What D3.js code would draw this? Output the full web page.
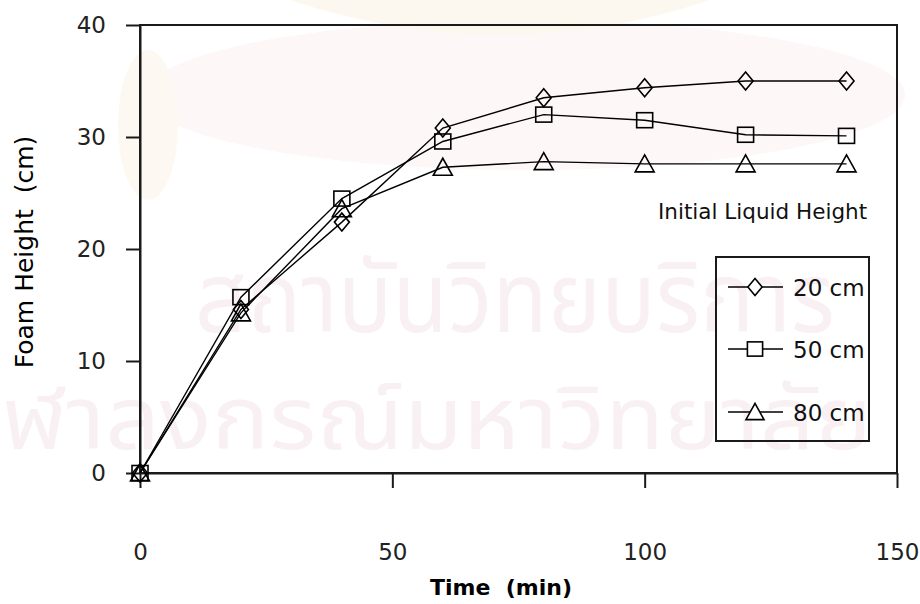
<!DOCTYPE html>
<html>
<head>
<meta charset="utf-8">
<script src="https://cdn.jsdelivr.net/npm/d3@7"></script>
<style>
  html, body { margin: 0; padding: 0; background: #fff; }
  svg { display: block; }
</style>
</head>
<body>
<svg id="chart" width="920" height="604"></svg>
<script>
// Foam height over time for three initial liquid heights
const times = [0, 20, 40, 60, 80, 100, 120, 140];
const foam20 = [0, 14.6, 22.4, 30.8, 33.5, 34.4, 35.0, 35.0];
const foam50 = [0, 15.7, 24.5, 29.6, 32.0, 31.5, 30.2, 30.1];
const foam80 = [0, 14.3, 23.6, 27.3, 27.8, 27.6, 27.6, 27.6];
const seriesNames = ["20 cm", "50 cm", "80 cm"];
const xTicks = [0, 50, 100, 150];
const yTicks = [0, 10, 20, 30, 40];

const svg = d3.select("#chart");
const plotL = 140, plotR = 897, plotT = 25, plotB = 473;

const x = d3.scaleLinear().domain([0, 150]).range([plotL, plotR]);
const y = d3.scaleLinear().domain([0, 40]).range([plotB, plotT]);

const FONT = "'DejaVu Sans', 'Liberation Sans', Arial, sans-serif";
const THAI = "'Noto Sans Thai', 'Noto Sans', 'DejaVu Sans', sans-serif";
const INK = "#1a1a1a";

// faint background emblem and institutional watermark
const wm = svg.append("g").attr("class", "watermark");
wm.append("ellipse")
  .attr("cx", 525).attr("cy", 95).attr("rx", 380).attr("ry", 75)
  .attr("fill", "#fdf7f8");
wm.append("path")
  .attr("d", "M290,0 Q500,70 710,0 Z")
  .attr("fill", "#fcf8f0");
wm.append("ellipse")
  .attr("cx", 148).attr("cy", 125).attr("rx", 30).attr("ry", 75)
  .attr("fill", "#fdf9f2");

// stretch a watermark line so its visible part spans [x0, x1]
function wmLine(str, size, baseY, x0, x1, skipChars) {
  const t = wm.append("text")
    .attr("y", baseY)
    .attr("font-family", THAI)
    .attr("font-size", size)
    .attr("fill", "#f9f0f3")
    .text(str);
  const node = t.node();
  const full = node.getComputedTextLength();
  const skip = skipChars > 0 ? node.getSubStringLength(0, skipChars) : 0;
  const k = (x1 - x0) / (full - skip);
  t.attr("x", x0 - skip * k)
    .attr("textLength", full * k)
    .attr("lengthAdjust", "spacingAndGlyphs");
}
wmLine("สถาบันวิทยบริการ", 98, 332, 195, 835, 0);
wmLine("จุฬาลงกรณ์มหาวิทยาลัย", 88, 449, 2, 872, 2);

// plot frame
svg.append("rect")
  .attr("x", plotL).attr("y", plotT)
  .attr("width", plotR - plotL).attr("height", plotB - plotT)
  .attr("fill", "none").attr("stroke", INK).attr("stroke-width", 2);

// axes
const yAxis = d3.axisLeft(y).tickValues(yTicks).tickSize(14).tickPadding(20).tickSizeOuter(0);
const gy = svg.append("g").attr("transform", `translate(${plotL},0)`).call(yAxis);
const xAxis = d3.axisBottom(x).tickValues(xTicks).tickSize(15).tickPadding(56).tickSizeOuter(0);
const gx = svg.append("g").attr("transform", `translate(0,${plotB})`).call(xAxis);
[gx, gy].forEach(g => {
  g.select(".domain").attr("stroke", INK).attr("stroke-width", 2);
  g.selectAll(".tick line").attr("stroke", INK).attr("stroke-width", 2);
  g.selectAll(".tick text")
    .attr("font-family", FONT).attr("font-size", 23).attr("fill", "#222");
});

// axis titles
svg.append("text")
  .attr("x", 501).attr("y", 595)
  .attr("text-anchor", "middle")
  .attr("font-family", FONT).attr("font-weight", "bold").attr("font-size", 22)
  .attr("fill", "#000")
  .attr("xml:space", "preserve")
  .text("Time  (min)");
svg.append("text")
  .attr("transform", "translate(33,252) rotate(-90)")
  .attr("text-anchor", "middle")
  .attr("font-family", FONT).attr("font-size", 25)
  .attr("fill", "#000")
  .attr("xml:space", "preserve")
  .text("Foam Height  (cm)");

// marker shapes
function marker(g, kind, cx, cy, s) {
  if (kind === 0) {
    g.append("path")
      .attr("d", `M${cx},${cy - 9 * s}L${cx + 7.5 * s},${cy}L${cx},${cy + 9 * s}L${cx - 7.5 * s},${cy}Z`);
  } else if (kind === 1) {
    g.append("rect")
      .attr("x", cx - 8 * s).attr("y", cy - 7.5 * s)
      .attr("width", 16 * s).attr("height", 15 * s);
  } else {
    g.append("path")
      .attr("d", `M${cx},${cy - 9 * s}L${cx + 9.5 * s},${cy + 8 * s}L${cx - 9.5 * s},${cy + 8 * s}Z`);
  }
}

const series = [foam20, foam50, foam80];
const line = d3.line().x((d, i) => x(times[i])).y(d => y(d));

series.forEach(vals => {
  svg.append("path")
    .datum(vals)
    .attr("d", line)
    .attr("fill", "none").attr("stroke", "#000").attr("stroke-width", 1.4);
});
series.forEach((vals, k) => {
  const g = svg.append("g")
    .attr("fill", "none").attr("stroke", "#000").attr("stroke-width", 1.6);
  vals.forEach((v, i) => marker(g, k, x(times[i]), y(v), 1));
});

// legend
svg.append("text")
  .attr("x", 658).attr("y", 219)
  .attr("font-family", FONT).attr("font-size", 21.5).attr("fill", "#111")
  .text("Initial Liquid Height");
svg.append("rect")
  .attr("x", 716).attr("y", 257)
  .attr("width", 153).attr("height", 184)
  .attr("fill", "none").attr("stroke", INK).attr("stroke-width", 2);
const legendY = [287, 349, 412];
seriesNames.forEach((name, k) => {
  const ly = legendY[k];
  svg.append("line")
    .attr("x1", 728).attr("x2", 783).attr("y1", ly).attr("y2", ly)
    .attr("stroke", "#000").attr("stroke-width", 1.6);
  const g = svg.append("g").attr("fill", "#fff").attr("stroke", "#000").attr("stroke-width", 1.6);
  marker(g, k, 755, ly, 0.95);
  svg.append("text")
    .attr("x", 793).attr("y", ly + 9)
    .attr("font-family", FONT).attr("font-size", 23).attr("fill", "#111")
    .text(name);
});
</script>
</body>
</html>
